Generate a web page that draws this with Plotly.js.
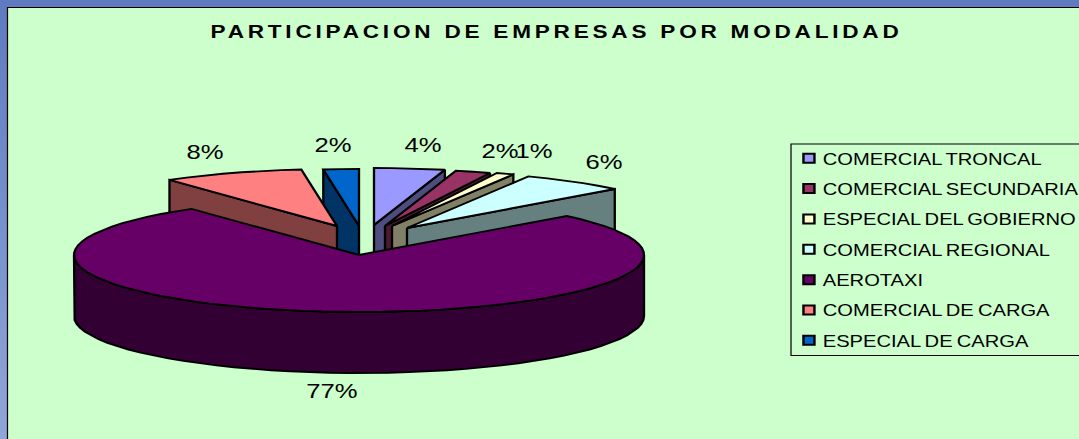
<!DOCTYPE html>
<html>
<head>
<meta charset="utf-8">
<script src="https://cdn.plot.ly/plotly-3.0.1.min.js"></script>
<style>
html,body{margin:0;padding:0;width:1079px;height:439px;overflow:hidden;
  background:linear-gradient(180deg,#5F7ABE 0%,#90A6DA 100%);}
#chart{width:884px;height:439px;transform:scaleX(1.2206);transform-origin:0 0;}
.gtitle{letter-spacing:3.1px;}
.legendtext{transform:translateX(-14px);word-spacing:-1.2px;}
.legendpoints .scatterpts{transform:translate(14.7px,0);}
</style>
</head>
<body>
<div id="chart"></div>
<script>
// ---- data ----
const categories = ["COMERCIAL TRONCAL","COMERCIAL SECUNDARIA","ESPECIAL DEL GOBIERNO","COMERCIAL REGIONAL","AEROTAXI","COMERCIAL DE CARGA","ESPECIAL DE CARGA"];
const shares = [4, 2, 1, 6, 77, 8, 2];
const chartTitle = "PARTICIPACION DE EMPRESAS POR MODALIDAD";

// ---- styling ----
const topColors  = ["#9999FF","#993366","#FFFFCC","#CCFFFF","#660066","#FF8080","#0066CC"];
const wallColors = ["#4D4D80","#4D1A33","#808066","#668080","#330033","#804040","#003366"];
const explodeX = [374, 385, 392, 407, 359, 337, 359];
const explodeY = [225, 226, 226, 228, 255, 226, 226];
const labelX = [423, 500, 534, 604, 332, 205, 333];
const labelY = [147, 153, 153, 164, 393, 154, 147];
const radiusX = 285, radiusY = 57, depth = 61;
const drawOrder = [6, 5, 0, 1, 2, 3, 4];
const outline = {color:"#000000", width:1.9};

// ---- geometry from the shares ----
const total = shares.reduce((a,b)=>a+b,0);
let acc = 0;
const startAngle = [], endAngle = [];
shares.forEach(v=>{ startAngle.push(acc/total*360); acc += v; endAngle.push(acc/total*360); });
const rad = d => d*Math.PI/180;
const rimPoint = (i,deg,drop) => [explodeX[i]+radiusX*Math.sin(rad(deg)), explodeY[i]-radiusY*Math.cos(rad(deg))+drop];
const arc = (i,a,b,drop) => {
  const n = Math.max(1,Math.round(Math.abs(b-a)/4)), pts=[];
  for(let k=0;k<=n;k++) pts.push(rimPoint(i,a+(b-a)*k/n,drop));
  return pts;
};
const polygon = (pts,color,name) => ({
  type:"scatter", mode:"lines", x:pts.map(p=>p[0]), y:pts.map(p=>p[1]),
  fill:"toself", fillcolor:color, line:outline, showlegend:false, hoverinfo:"skip", name:name
});

const traces = [];
drawOrder.forEach(i=>{
  const apex=[explodeX[i],explodeY[i]], apexLow=[explodeX[i],explodeY[i]+depth];
  const a=startAngle[i], b=endAngle[i];
  if(i===4){
    // front rim of the large slice
    const front = arc(i,90,270,0).concat(arc(i,270,90,depth));
    front.push(front[0]);
    traces.push(polygon(front,wallColors[i],categories[i]));
  } else {
    // visible cut face of an exploded slice
    const faceDeg = a>180 ? a : b;
    const r0=rimPoint(i,faceDeg,0), r1=rimPoint(i,faceDeg,depth);
    traces.push(polygon([apex,r0,r1,apexLow,apex],wallColors[i],categories[i]));
  }
  const top=[apex].concat(arc(i,a,b,0)); top.push(apex);
  traces.push(polygon(top,topColors[i],categories[i]));
});

// percentage labels
traces.push({
  type:"scatter", mode:"text", x:labelX, y:labelY,
  text:shares.map(v=>v+"%"), textposition:"middle center",
  textfont:{family:"Liberation Sans, Arial, sans-serif", size:21, color:"#000000"},
  showlegend:false, hoverinfo:"skip"
});

// legend entries
categories.forEach((c,i)=>traces.push({
  type:"scatter", mode:"markers", x:[null], y:[null], name:c, legendgroup:"g"+i,
  marker:{symbol:"square", size:9, color:topColors[i], line:{color:"#000000", width:2}},
  hoverinfo:"skip"
}));

const layout = {
  width:884, height:439,
  margin:{l:0,r:0,t:0,b:0,pad:0,autoexpand:false},
  paper_bgcolor:"rgba(0,0,0,0)", plot_bgcolor:"rgba(0,0,0,0)",
  font:{family:"Liberation Sans, Arial, sans-serif", color:"#000000"},
  title:{text:chartTitle, x:556.5/1079, y:1-32/439, xref:"paper", yref:"paper", xanchor:"center", yanchor:"middle",
         font:{family:"Liberation Sans, Arial, sans-serif", size:18.5, weight:700, color:"#000000"}},
  xaxis:{range:[0,1079], visible:false, fixedrange:true},
  yaxis:{range:[439,0], visible:false, fixedrange:true},
  shapes:[
    {type:"rect", layer:"below", xref:"x", yref:"y", x0:7.5, y0:7.5, x1:1120, y1:480,
     fillcolor:"#CCFFCC", line:{color:"#000000", width:1}},
    {type:"rect", layer:"below", xref:"x", yref:"y", x0:791, y0:144, x1:1120, y1:355.5,
     fillcolor:"rgba(0,0,0,0)", line:{color:"#000000", width:1}}
  ],
  showlegend:true,
  legend:{x:791/1079, y:1-141/439, xanchor:"left", yanchor:"top", bgcolor:"rgba(0,0,0,0)",
          borderwidth:0, tracegroupgap:5.9,
          font:{family:"Liberation Sans, Arial, sans-serif", size:16.5, color:"#000000"}}
};
Plotly.newPlot("chart", traces, layout, {displayModeBar:false, staticPlot:true});
</script>
</body>
</html>
